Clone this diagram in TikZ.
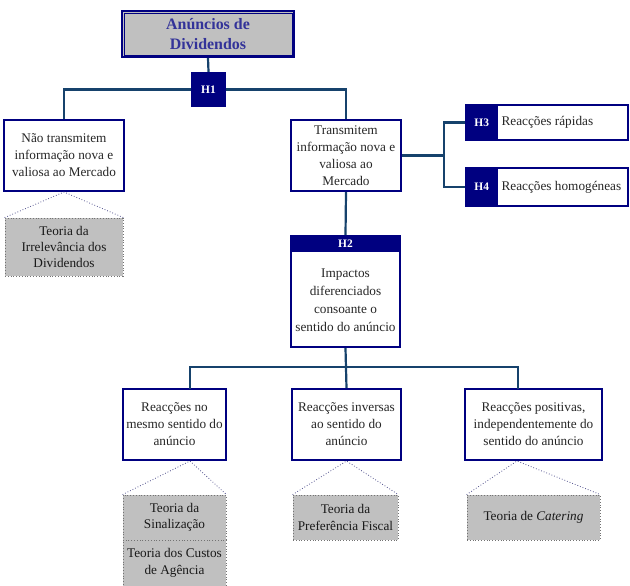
\documentclass[tikz,border=0pt]{standalone}
\usepackage{fontspec}
\setmainfont{Liberation Serif}
\usetikzlibrary{calc}
\definecolor{navyb}{RGB}{0,0,128}
\definecolor{connc}{RGB}{22,66,108}
\definecolor{titc}{RGB}{51,51,153}
\definecolor{grayf}{RGB}{192,192,192}
\definecolor{dotc}{RGB}{80,80,140}
\begin{document}
\begin{tikzpicture}[x=1bp,y=-1bp,
  box/.style={draw=navyb, line width=2bp, fill=white, inner sep=0pt, align=center,
    font=\fontsize{13.3}{17}\selectfont, text=black!85},
  gbox/.style={draw=black!55, dotted, line width=0.8bp, fill=grayf, inner sep=0pt, align=center,
    font=\fontsize{13.3}{16.5}\selectfont, text=black!90},
  hbox/.style={fill=navyb, text=white, font=\bfseries\fontsize{11.5}{13}\selectfont, inner sep=0pt},
  lbl/.style={inner sep=0pt, font=\fontsize{13.3}{17}\selectfont, text=black!85},
  conn/.style={draw=connc, line width=2.2bp},
  dotl/.style={draw=dotc, dotted, line width=0.8bp}]
\useasboundingbox (0,0) rectangle (630,586);

% title
\node[draw=navyb, line width=2bp, fill=grayf, minimum width=172bp, minimum height=46bp,
  font=\bfseries\fontsize{16}{20}\selectfont, text=titc, align=center, inner sep=0pt]
  (top) at (208,34) {Anúncios de\\Dividendos};
\draw[navyb, line width=0.8bp] ($(top.north west)+(3,3)$) rectangle ($(top.south east)+(-3,-3)$);

% H1
\node[hbox, minimum width=35bp, minimum height=35bp] (h1) at (208.5,89.5) {H1};

% level 2
\node[box, minimum width=120bp, minimum height=71bp] (nt) at (64,155.5)
  {Não transmitem\\informação nova e\\valiosa ao Mercado};
\node[box, minimum width=110bp, minimum height=71bp] (tr) at (346,155.5)
  {Transmitem\\informação nova e\\valiosa ao\\Mercado};

\node[gbox, minimum width=118bp, minimum height=58bp] (g0) at (64,247)
  {Teoria da\\Irrelevância dos\\Dividendos};

% H3 / H4
\node[box, minimum width=162bp, minimum height=35bp, anchor=west] (r3) at (465,122.5) {};
\node[hbox, minimum width=33bp, minimum height=35bp, anchor=west] (h3) at (465,122.5) {H3};
\node[lbl, anchor=west] (t3) at ($(h3.east)+(3,0)$) {Reacções rápidas};
\node[box, minimum width=162bp, minimum height=38bp, anchor=west] (r4) at (465,187) {};
\node[hbox, minimum width=33bp, minimum height=38bp, anchor=west] (h4) at (465,187) {H4};
\node[lbl, anchor=west] (t4) at ($(h4.east)+(3,0)$) {Reacções homogéneas};

% H2
\node[box, minimum width=109bp, minimum height=111bp] (h2) at (345.5,291.5) {};
\fill[navyb] (h2.north west) rectangle ($(h2.north east)+(0,17)$);
\node[hbox] (h2t) at ($(h2.north)+(0,9)$) {H2};
\node[lbl, align=center, font=\fontsize{13.3}{18}\selectfont]
  (h2b) at (345.5,300) {Impactos\\diferenciados\\consoante o\\sentido do anúncio};

% bottom boxes
\node[box, minimum width=103bp, minimum height=71bp] (b1) at (174.5,424.5)
  {Reacções no\\mesmo sentido do\\anúncio};
\node[box, minimum width=109bp, minimum height=71bp] (b2) at (346.5,424.5)
  {Reacções inversas\\ao sentido do\\anúncio};
\node[box, minimum width=137bp, minimum height=71bp] (b3) at (533.5,424.5)
  {Reacções positivas,\\independentemente do\\sentido do anúncio};

\node[gbox, minimum width=103bp, minimum height=45bp] (g1) at (174.5,517.5)
  {Teoria da\\Sinalização};
\node[gbox, minimum width=103bp, minimum height=46bp] (g1b) at (174.5,563)
  {Teoria dos Custos\\de Agência};
\node[gbox, minimum width=105bp, minimum height=45bp] (g2) at (345.5,517.5)
  {Teoria da\\Preferência Fiscal};
\node[gbox, minimum width=133bp, minimum height=45bp] (g3) at (533.5,517.5)
  {Teoria de \textit{Catering}};

% connectors
\draw[conn] (top.south) -- (h1.north);
\draw[conn] (h1.west) -| (nt.north);
\draw[conn] (h1.east) -| (tr.north);
\coordinate (j) at (444,155.5);
\draw[conn] (tr.east) -- (j);
\draw[conn] (h3.west) -| (j) |- (h4.west);
\draw[conn] (tr.south) -- (h2.north);
\draw[conn] (h2.south) -- (b2.north);
\coordinate (c1) at (190,389);
\coordinate (hl) at (190,367);
\coordinate (hr) at (518,367);
\coordinate (c3) at (518,389);
\draw[conn] (c1) -- (hl) -- (hr) -- (c3);

% dotted links
\draw[dotl] (g0.north west) -- (nt.south) -- (g0.north east);
\coordinate (a1) at (190,461);
\draw[dotl] (g1.north west) -- (a1) -- (g1.north east);
\draw[dotl] (g2.north west) -- (b2.south) -- (g2.north east);
\coordinate (a3) at (517,461);
\draw[dotl] (g3.north west) -- (a3) -- (g3.north east);
\end{tikzpicture}
\end{document}
